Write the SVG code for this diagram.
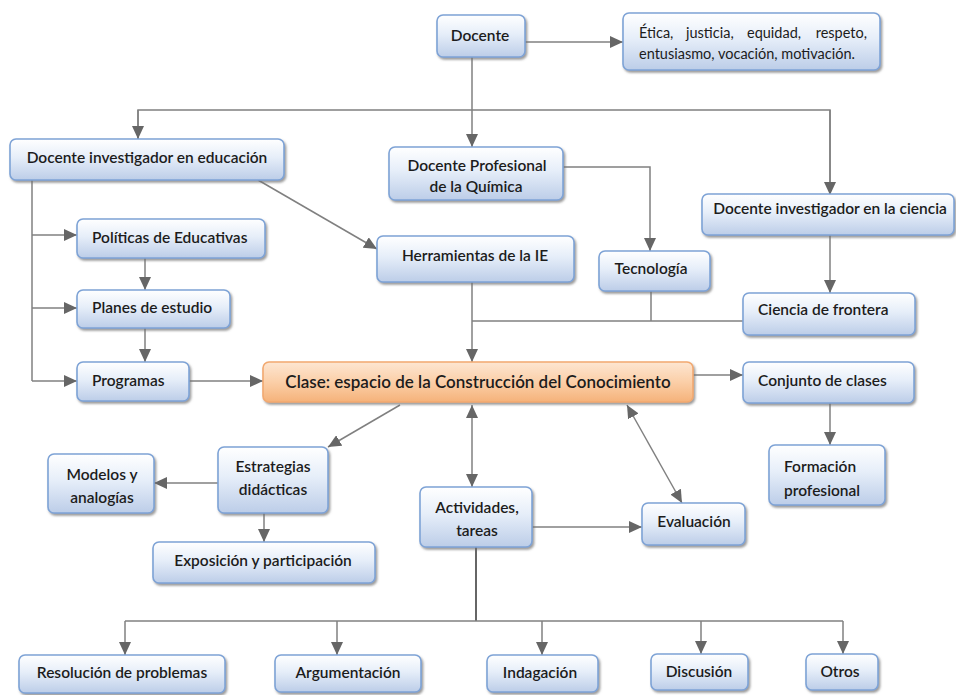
<svg xmlns="http://www.w3.org/2000/svg" width="956" height="695" viewBox="0 0 956 695">
<defs>
<linearGradient id="gb" x1="0" y1="0" x2="0" y2="1">
<stop offset="0" stop-color="#ffffff"/>
<stop offset="0.45" stop-color="#e6eef9"/>
<stop offset="1" stop-color="#bccde8"/>
</linearGradient>
<linearGradient id="go" x1="0" y1="0" x2="0" y2="1">
<stop offset="0" stop-color="#fde6d2"/>
<stop offset="0.5" stop-color="#fbcfa8"/>
<stop offset="1" stop-color="#f5b27a"/>
</linearGradient>
<filter id="sh" x="-10%" y="-10%" width="130%" height="140%">
<feDropShadow dx="1.5" dy="2" stdDeviation="1" flood-color="#707070" flood-opacity="0.7"/>
</filter>
<marker id="ar" markerUnits="userSpaceOnUse" markerWidth="14" markerHeight="12" refX="13" refY="6" orient="auto-start-reverse">
<path d="M0,0 L13,6 L0,12 z" fill="#666666"/>
</marker>
</defs>
<style>
.n rect{fill:url(#gb);stroke:#7ea3d6;stroke-width:1.6;filter:url(#sh)}
.o rect{fill:url(#go);stroke:#f2a970;stroke-width:1.6;filter:url(#sh)}
text{font-family:Lato,"Liberation Sans",sans-serif;font-size:15.5px;fill:#1c1c1c;font-weight:600}
.m{text-anchor:middle}
.s{font-size:14.5px;font-weight:400}
.c line,.c path{stroke:#808080;stroke-width:1.5;fill:none}
.c .k{stroke:#333333}
.a{marker-end:url(#ar)}
.b{marker-start:url(#ar);marker-end:url(#ar)}
</style>
<rect width="956" height="695" fill="#ffffff"/>
<g class="c" id="connectors">
<line class="a" x1="525" y1="42" x2="623" y2="42"/>
<line class="a" x1="472" y1="57" x2="472" y2="147"/>
<path d="M138,139 V110 H830 V195"/>
<line class="a" x1="138" y1="110" x2="138" y2="139"/>
<line class="a" x1="830" y1="110" x2="830" y2="195"/>
<line class="a" x1="258" y1="180" x2="377" y2="249"/>
<path class="a" d="M563,167 H650 V251"/>
<line class="a" x1="830" y1="235" x2="830" y2="293"/>
<path d="M651,291 V321"/>
<path d="M472,321 H743"/>
<line class="a" x1="472" y1="282" x2="472" y2="362"/>
<path d="M32,180 V381"/>
<line class="a" x1="32" y1="235" x2="77" y2="235"/>
<line class="a" x1="32" y1="308" x2="77" y2="308"/>
<line class="a" x1="32" y1="381" x2="77" y2="381"/>
<line class="a" x1="145" y1="258" x2="145" y2="290"/>
<line class="a" x1="145" y1="328" x2="145" y2="362"/>
<line class="a" x1="189" y1="381" x2="263" y2="381"/>
<line class="a" x1="693" y1="375" x2="743" y2="375"/>
<line class="a" x1="830" y1="403" x2="830" y2="445"/>
<line class="a" x1="400" y1="405" x2="328" y2="447"/>
<line class="a" x1="218" y1="483" x2="154" y2="483"/>
<line class="a" x1="264" y1="513" x2="264" y2="542"/>
<line class="b" x1="472" y1="405" x2="472" y2="487"/>
<line class="a" x1="532" y1="527" x2="642" y2="527"/>
<line class="b" x1="627" y1="405" x2="682" y2="503"/>
<path class="k" d="M476,547 V621"/>
<path d="M125,621 H843"/>
<line class="a" x1="125" y1="621" x2="125" y2="655"/>
<line class="a" x1="337" y1="621" x2="337" y2="655"/>
<line class="a" x1="542" y1="621" x2="542" y2="655"/>
<line class="a" x1="701" y1="621" x2="701" y2="654"/>
<line class="a" x1="843" y1="621" x2="843" y2="654"/>
</g>
<g id="docente" class="n"><rect x="437" y="15" width="88" height="42" rx="6"/><text class="m" x="480" y="41">Docente</text></g>
<g id="etica" class="n"><rect x="623" y="13" width="257" height="57" rx="6"/>
<text class="s" x="639" y="38">Ética,</text><text class="s" x="686" y="38">justicia,</text><text class="s" x="747" y="38">equidad,</text><text class="s" x="867" y="38" text-anchor="end">respeto,</text>
<text class="s" x="639" y="59">entusiasmo, vocación, motivación.</text></g>
<g id="doc-inv-edu" class="n"><rect x="10" y="139" width="274" height="41" rx="6"/><text class="m" x="147" y="163">Docente investigador en educación</text></g>
<g id="doc-prof-quim" class="n"><rect x="389" y="147" width="174" height="53" rx="6"/><text class="m" x="477" y="171">Docente Profesional</text><text class="m" x="476" y="192">de la Química</text></g>
<g id="doc-inv-ciencia" class="n"><rect x="702" y="194" width="252" height="41" rx="6"/><text class="m" x="830" y="214">Docente investigador en la ciencia</text></g>
<g id="herramientas" class="n"><rect x="377" y="236" width="197" height="46" rx="6"/><text class="m" x="475" y="261">Herramientas de la IE</text></g>
<g id="tecnologia" class="n"><rect x="599" y="251" width="111" height="40" rx="6"/><text class="m" x="651" y="274">Tecnología</text></g>
<g id="ciencia-frontera" class="n"><rect x="743" y="293" width="172" height="42" rx="6"/><text x="758" y="315">Ciencia de frontera</text></g>
<g id="politicas" class="n"><rect x="77" y="219" width="188" height="39" rx="6"/><text x="92" y="243">Políticas de Educativas</text></g>
<g id="planes" class="n"><rect x="77" y="290" width="153" height="38" rx="6"/><text x="92" y="313">Planes de estudio</text></g>
<g id="programas" class="n"><rect x="77" y="362" width="112" height="39" rx="6"/><text x="92" y="386">Programas</text></g>
<g id="clase" class="o"><rect x="263" y="362" width="430" height="40" rx="6"/><text class="m" x="478" y="388" style="font-size:17px">Clase: espacio de la Construcción del Conocimiento</text></g>
<g id="conjunto" class="n"><rect x="743" y="362" width="171" height="41" rx="6"/><text x="758" y="386">Conjunto de clases</text></g>
<g id="formacion" class="n"><rect x="769" y="445" width="116" height="60" rx="6"/><text x="784" y="472">Formación</text><text x="784" y="496">profesional</text></g>
<g id="estrategias" class="n"><rect x="218" y="447" width="110" height="66" rx="6"/><text class="m" x="273" y="472">Estrategias</text><text class="m" x="273" y="495">didácticas</text></g>
<g id="modelos" class="n"><rect x="48" y="454" width="106" height="59" rx="6"/><text class="m" x="102" y="480">Modelos y</text><text class="m" x="102" y="503">analogías</text></g>
<g id="exposicion" class="n"><rect x="153" y="542" width="222" height="41" rx="6"/><text class="m" x="263" y="566">Exposición y participación</text></g>
<g id="actividades" class="n"><rect x="420" y="487" width="112" height="60" rx="6"/><text class="m" x="477" y="513">Actividades,</text><text class="m" x="477" y="536">tareas</text></g>
<g id="evaluacion" class="n"><rect x="642" y="503" width="103" height="42" rx="6"/><text class="m" x="694" y="527">Evaluación</text></g>
<g id="resolucion" class="n"><rect x="19" y="655" width="206" height="38" rx="6"/><text class="m" x="122" y="678">Resolución de problemas</text></g>
<g id="argumentacion" class="n"><rect x="275" y="655" width="146" height="37" rx="6"/><text class="m" x="348" y="678">Argumentación</text></g>
<g id="indagacion" class="n"><rect x="487" y="655" width="111" height="37" rx="6"/><text class="m" x="540" y="678">Indagación</text></g>
<g id="discusion" class="n"><rect x="651" y="654" width="97" height="36" rx="6"/><text class="m" x="699" y="677">Discusión</text></g>
<g id="otros" class="n"><rect x="806" y="654" width="72" height="36" rx="6"/><text class="m" x="840" y="677">Otros</text></g>
</svg>
